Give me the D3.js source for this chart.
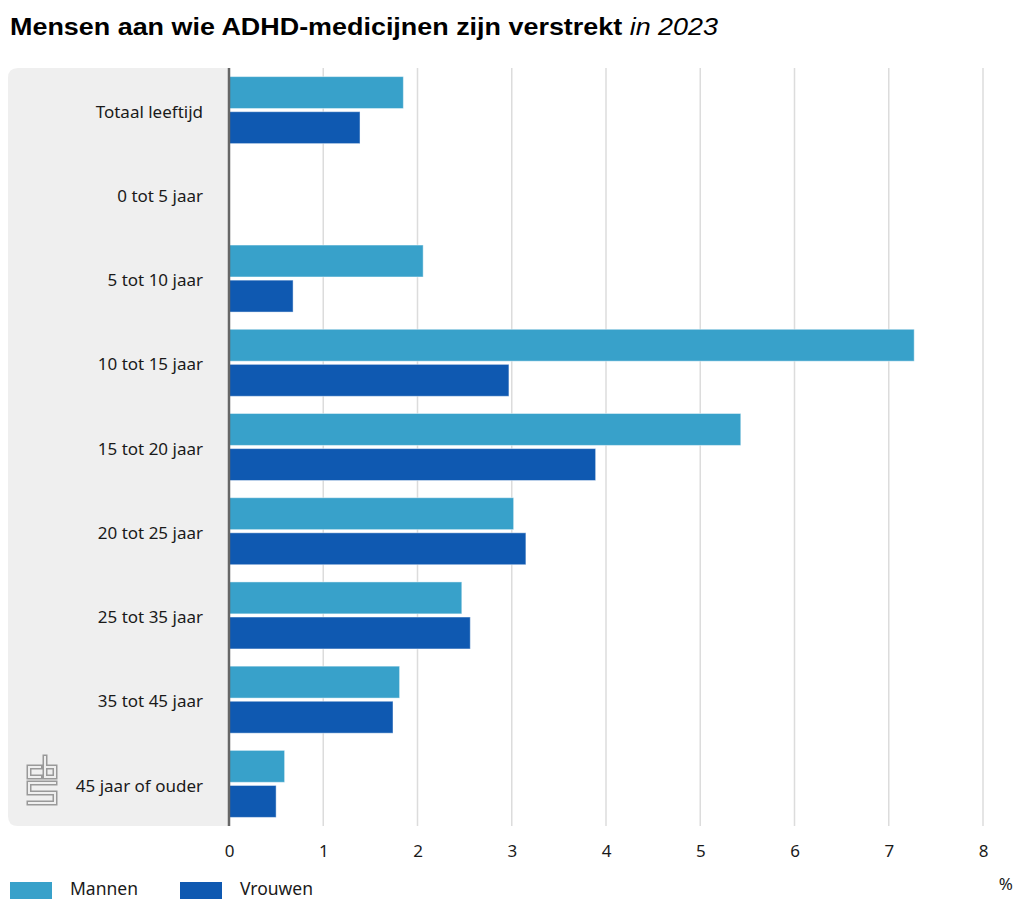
<!DOCTYPE html>
<html>
<head>
<meta charset="utf-8">
<script src="https://cdn.jsdelivr.net/npm/d3@7"></script>
<style>
  body { margin: 0; background: #fff; }
  svg { display: block; }
</style>
</head>
<body>
<div id="chart"></div>
<script>
// data
var categories = ['Totaal leeftijd', '0 tot 5 jaar', '5 tot 10 jaar', '10 tot 15 jaar', '15 tot 20 jaar',
                  '20 tot 25 jaar', '25 tot 35 jaar', '35 tot 45 jaar', '45 jaar of ouder'];
var seriesNames = ['Mannen', 'Vrouwen'];
var mannen  = [1.85, null, 2.06, 7.27, 5.43, 3.02, 2.47, 1.81, 0.59];
var vrouwen = [1.39, null, 0.68, 2.97, 3.89, 3.15, 2.56, 1.74, 0.50];
var xTicks = [0, 1, 2, 3, 4, 5, 6, 7, 8];

var colors = { 'Mannen': '#38a1ca', 'Vrouwen': '#0f59b1' };

var width = 1024, height = 909;
var chartTop = 68, chartBottom = 826;
var x0px = 229;

var svg = d3.select('#chart').append('svg')
    .attr('width', width)
    .attr('height', height);

// title
var title = svg.append('text')
    .attr('x', 10)
    .attr('y', 35)
    .attr('font-family', 'Liberation Sans, Arial, sans-serif')
    .attr('font-size', 23)
    .attr('fill', '#000')
    .attr('textLength', 708)
    .attr('lengthAdjust', 'spacingAndGlyphs');
title.append('tspan').attr('font-weight', 'bold').text('Mensen aan wie ADHD-medicijnen zijn verstrekt');
title.append('tspan').attr('font-style', 'italic').text(' in 2023');

// scales
var x = d3.scaleLinear().domain([0, 8]).range([x0px, 983]);
var y0 = d3.scaleBand().domain(categories).range([chartTop, chartBottom]).padding(0);
var pad = 8.6;
var y1 = d3.scaleBand().domain(seriesNames)
    .range([pad, y0.bandwidth() - pad])
    .paddingInner(0.09);

// grey panel behind labels (rounded on the left)
var r = 10, px = 8;
svg.append('path')
    .attr('d', 'M' + x0px + ',' + chartTop + ' H' + (px + r) + ' Q' + px + ',' + chartTop + ' ' + px + ',' + (chartTop + r) +
               ' V' + (chartBottom - r) + ' Q' + px + ',' + chartBottom + ' ' + (px + r) + ',' + chartBottom + ' H' + x0px + ' Z')
    .attr('fill', '#efefef');

// gridlines
svg.append('g').selectAll('line')
    .data(xTicks.slice(1))
    .enter().append('line')
    .attr('x1', function(d){ return x(d); })
    .attr('x2', function(d){ return x(d); })
    .attr('y1', chartTop)
    .attr('y2', chartBottom)
    .attr('stroke', '#dcdcdc')
    .attr('stroke-width', 1.5);

// bars
var rows = categories.map(function(c, i){
    return { cat: c, values: [
        { name: 'Mannen', value: mannen[i] },
        { name: 'Vrouwen', value: vrouwen[i] }
    ]};
});

var groups = svg.append('g').selectAll('g')
    .data(rows)
    .enter().append('g')
    .attr('transform', function(d){ return 'translate(0,' + y0(d.cat) + ')'; });

groups.selectAll('rect')
    .data(function(d){ return d.values.filter(function(v){ return v.value != null; }); })
    .enter().append('rect')
    .attr('x', x(0))
    .attr('y', function(d){ return y1(d.name); })
    .attr('width', function(d){ return x(d.value) - x(0); })
    .attr('height', y1.bandwidth())
    .attr('fill', function(d){ return colors[d.name]; })
    .attr('stroke', 'rgba(255,255,255,0.45)')
    .attr('stroke-width', 1);

// zero axis line
svg.append('line')
    .attr('x1', x0px).attr('x2', x0px)
    .attr('y1', chartTop).attr('y2', chartBottom)
    .attr('stroke', '#666')
    .attr('stroke-width', 2.5);

// category labels
svg.append('g').selectAll('text')
    .data(categories)
    .enter().append('text')
    .attr('x', 203)
    .attr('y', function(d){ return y0(d) + y0.bandwidth() / 2; })
    .attr('dy', '0.45em')
    .attr('text-anchor', 'end')
    .attr('font-family', 'Noto Sans, sans-serif')
    .attr('font-size', 17)
    .attr('fill', '#1a1a1a')
    .text(function(d){ return d; });

// x axis
var xAxis = d3.axisBottom(x).tickValues(xTicks).tickSize(0).tickPadding(0);
var gx = svg.append('g')
    .attr('transform', 'translate(0,' + 845 + ')')
    .call(xAxis);
gx.select('.domain').remove();
gx.selectAll('text')
    .attr('font-family', 'Noto Sans, sans-serif')
    .attr('font-size', 17)
    .attr('fill', '#1a1a1a');

svg.append('text')
    .attr('x', 1013)
    .attr('y', 890)
    .attr('text-anchor', 'end')
    .attr('font-family', 'Noto Sans, sans-serif')
    .attr('font-size', 17)
    .attr('fill', '#1a1a1a')
    .text('%');

// legend
var legend = svg.append('g').selectAll('g')
    .data(seriesNames)
    .enter().append('g')
    .attr('transform', function(d, i){ return 'translate(' + (10 + i * 170) + ',882)'; });
legend.append('rect')
    .attr('width', 42)
    .attr('height', 17)
    .attr('fill', function(d){ return colors[d]; });
legend.append('text')
    .attr('x', 60)
    .attr('y', 7)
    .attr('dy', '0.35em')
    .attr('font-family', 'Noto Sans, sans-serif')
    .attr('font-size', 17.5)
    .attr('fill', '#1a1a1a')
    .text(function(d){ return d; });

// cbs logo
var logo = svg.append('g').attr('transform', 'translate(27,757)');
var logoPath = 'M13,10 H2 V20 H13 M18,0 V20 H28 V10 H18 M28,26 H2 V36 H28 V46 H2';
logo.append('path').attr('d', logoPath)
    .attr('fill', 'none').attr('stroke', '#999').attr('stroke-width', 5)
    .attr('stroke-linejoin', 'miter').attr('stroke-linecap', 'square');
logo.append('path').attr('d', logoPath)
    .attr('fill', 'none').attr('stroke', '#efefef').attr('stroke-width', 2)
    .attr('stroke-linejoin', 'miter').attr('stroke-linecap', 'square');
</script>
</body>
</html>
